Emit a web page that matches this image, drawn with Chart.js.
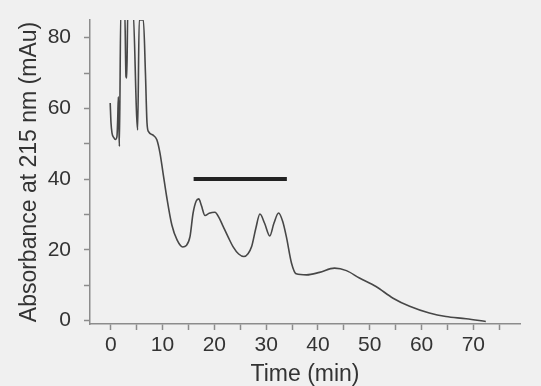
<!DOCTYPE html>
<html>
<head>
<meta charset="utf-8">
<script src="https://cdn.jsdelivr.net/npm/chart.js@4/dist/chart.umd.min.js"></script>
<style>
  body { margin: 0; background: #f0f0f0; }
  #wrap { width: 541px; height: 386px; }
</style>
</head>
<body>
<div id="wrap"><canvas id="chromChart" width="541" height="386"></canvas></div>
<script>
// Chromatogram trace (time in min, absorbance in mAu)
const times = [
  -0.1, 0.05, 0.25, 0.6, 0.9, 1.2, 1.35, 1.47, 1.57, 1.67, 1.95, 2.7, 2.95, 3.1, 3.3,
  4.3, 5.0, 5.2, 5.5, 6.3, 6.7, 7.0, 7.3, 8.2, 8.9, 9.5, 10.1, 10.8, 11.8, 12.8,
  13.9, 14.6, 15.3, 15.9, 16.5, 17.0, 17.5, 18.2, 19.0, 20.1, 21.0, 21.7, 22.7, 23.6,
  24.7, 25.7, 26.5, 27.2, 28.0, 28.8, 29.7, 30.7, 31.5, 32.4, 33.2, 33.9, 34.9, 35.8,
  37.8, 40.3, 43.2, 45.5, 48.0, 51.2, 54.5, 57.7, 61.5, 64.7, 68.6, 72.4
];
const absorbance = [
  61.5, 56, 53, 51.7, 51.2, 52, 57, 63.3, 56, 49.2, 88, 88, 69, 68.6, 88,
  88, 58, 53.9, 85, 85, 70, 56, 53.4, 52.4, 51.1, 47.4, 41.7, 35, 27, 22.8,
  20.8, 21.2, 23.7, 30.4, 33.8, 34.4, 32.5, 29.7, 30.3, 30.6, 28.8, 26.6, 23.5, 20.9,
  18.8, 18.1, 18.9, 20.9, 26, 30.1, 27.5, 23.9, 27.5, 30.4, 28, 23.7, 16.2, 13.2,
  12.9, 13.6, 14.8, 14.1, 12.0, 9.6, 6.3, 4.0, 2.1, 1.1, 0.5, -0.3
];

// Pooled fraction bar
const barTimes = [16, 34];
const barLevel = 40;

// Labelled ticks (others are minor ticks)
const xTickLabels = [0, 10, 20, 30, 40, 50, 60, 70];
const yTickLabels = [0, 20, 40, 60, 80];

(function () {
  const tickFont = { family: 'Liberation Sans, Arial, sans-serif', size: 21 };
  const titleFont = { family: 'Liberation Sans, Arial, sans-serif', size: 23, lineHeight: 1 };
  const axisGray = '#8c8c8c';

  const trace = times.map((t, i) => ({ x: t, y: absorbance[i] }));
  const bar = barTimes.map((t) => ({ x: t, y: barLevel }));

  const ctx = document.getElementById('chromChart').getContext('2d');
  new Chart(ctx, {
    type: 'scatter',
    data: {
      datasets: [
        {
          data: trace,
          showLine: true,
          borderColor: '#474747',
          borderWidth: 1.6,
          pointRadius: 0,
          cubicInterpolationMode: 'monotone',
        },
        {
          data: bar,
          showLine: true,
          borderColor: '#222222',
          borderWidth: 4,
          pointRadius: 0,
        },
      ],
    },
    options: {
      responsive: false,
      animation: false,
      events: [],
      layout: { padding: { left: 0, right: 21, top: 20, bottom: 0 } },
      plugins: { legend: { display: false }, tooltip: { enabled: false } },
      scales: {
        x: {
          type: 'linear',
          min: -4,
          max: 79,
          border: { display: true, color: axisGray, width: 1.5 },
          grid: { drawOnChartArea: false, drawTicks: true, tickLength: 6, tickColor: axisGray, tickWidth: 1.5 },
          ticks: {
            stepSize: 5,
            includeBounds: false,
            autoSkip: false,
            maxRotation: 0,
            padding: 3,
            color: '#333333',
            font: tickFont,
            callback: (v) => (xTickLabels.includes(v) ? String(v) : ''),
          },
          title: { display: true, text: 'Time (min)', color: '#333333', font: titleFont, padding: 0 },
          afterFit: (scale) => {
            scale.height = 62;
            scale.paddingLeft = 0;
            scale.paddingRight = 0;
          },
        },
        y: {
          min: -1,
          max: 85,
          border: { display: true, color: axisGray, width: 1.5 },
          grid: { drawOnChartArea: false, drawTicks: true, tickLength: 6, tickColor: axisGray, tickWidth: 1.5 },
          ticks: {
            stepSize: 10,
            includeBounds: false,
            autoSkip: false,
            padding: 13,
            color: '#333333',
            font: tickFont,
            callback: (v) => (yTickLabels.includes(v) ? String(v) : ''),
          },
          title: {
            display: true,
            text: 'Absorbance at 215 nm (mAu)',
            color: '#333333',
            font: titleFont,
            padding: { top: 18, bottom: 0 },
          },
          afterFit: (scale) => {
            scale.width = 90;
            scale.paddingTop = 0;
            scale.paddingBottom = 0;
          },
        },
      },
    },
  });
})();
</script>
</body>
</html>
